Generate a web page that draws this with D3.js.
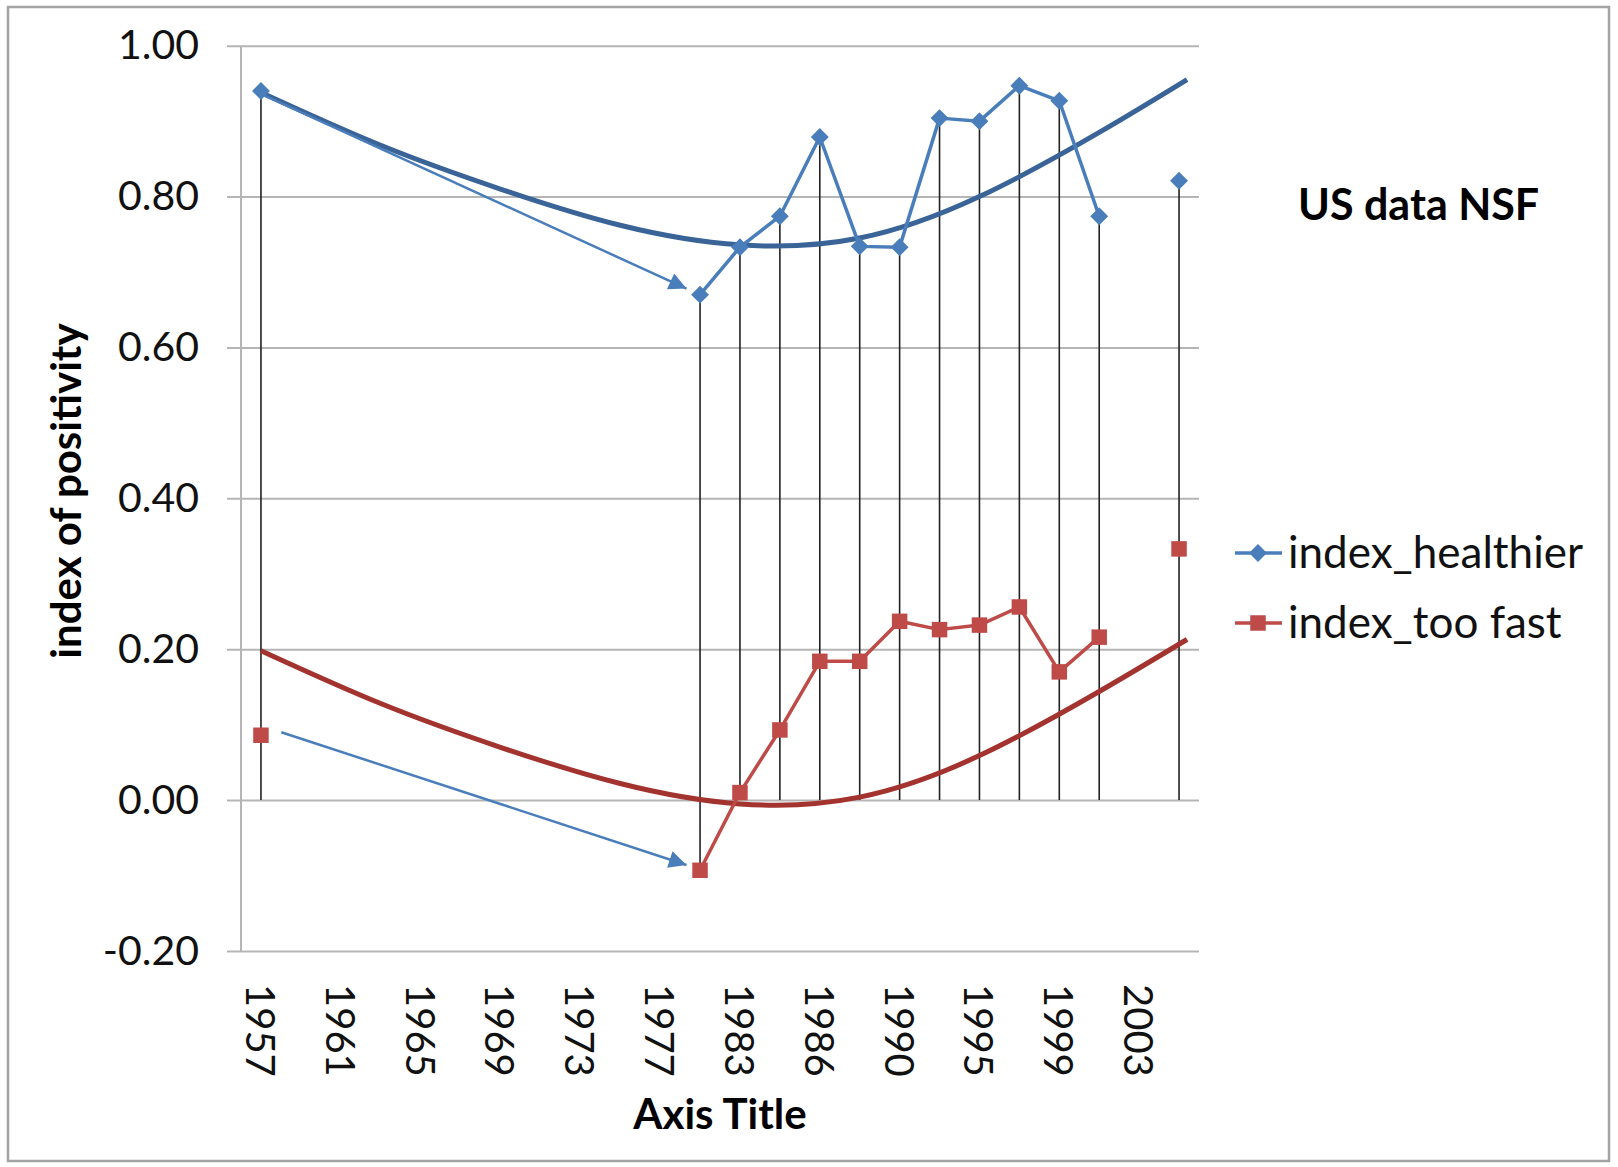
<!DOCTYPE html>
<html>
<head>
<meta charset="utf-8">
<title>US data NSF</title>
<script src="https://cdnjs.cloudflare.com/ajax/libs/d3/7.8.5/d3.min.js"></script>
<style>
  body { margin: 0; background: #fff; }
  svg { display: block; font-family: Lato, "Open Sans", sans-serif; }
</style>
</head>
<body>
<div id="chart"></div>
<script>
// categories on the x axis (only every second one is labelled)
var categories = ["1957", "1959", "1961", "1963", "1965", "1967", "1969", "1971",
                  "1973", "1975", "1977", "1979", "1983", "1985", "1986", "1988",
                  "1990", "1992", "1995", "1997", "1999", "2001", "2003", "2006"];

var healthier = [0.94, null, null, null, null, null, null, null, null, null, null,
                 0.670, 0.733, 0.774, 0.879, 0.734, 0.733, 0.904, 0.900, 0.947, 0.927, 0.774,
                 null, 0.821];

var tooFast = [0.086, null, null, null, null, null, null, null, null, null, null,
               -0.093, 0.010, 0.093, 0.184, 0.184, 0.237, 0.226, 0.232, 0.256, 0.170, 0.216,
               null, 0.333];

var yTicks = [-0.2, 0, 0.2, 0.4, 0.6, 0.8, 1.0];

// the thick drawn trend curves at category positions
var trendAt = [0, 3, 6, 9, 12, 15, 18, 21, 23.2];
var trendHealthier = [0.938, 0.868, 0.810, 0.762, 0.736, 0.745, 0.800, 0.885, 0.955];
var trendTooFast = [0.198, 0.128, 0.070, 0.022, -0.005, 0.004, 0.059, 0.144, 0.213];

// annotation arrows [fromIndex, fromValue, toIndex, toValue]
var arrows = [[0, 0.936, 10.66, 0.678], [0.51, 0.090, 10.66, -0.086]];

var seriesNames = ["index_healthier", "index_too fast"];

(function() {
  "use strict";

  var w = 1618, h = 1167;
  var left = 241, right = 1199, top = 45.7, bottom = 951;

  var svg = d3.select("#chart").append("svg")
    .attr("width", w)
    .attr("height", h);

  var defs = svg.append("defs");
  defs.append("marker")
    .attr("id", "arrowhead")
    .attr("viewBox", "0 0 10 10")
    .attr("refX", 10).attr("refY", 5)
    .attr("markerWidth", 9).attr("markerHeight", 7)
    .attr("markerUnits", "strokeWidth")
    .attr("orient", "auto")
    .append("path")
    .attr("d", "M0,0 L10,5 L0,10 Z")
    .attr("fill", "#4a7ebb");

  // outer frame
  svg.append("rect")
    .attr("x", 8).attr("y", 7)
    .attr("width", 1601).attr("height", 1154)
    .attr("fill", "#fff")
    .attr("stroke", "#a3a3a3")
    .attr("stroke-width", 2.5);

  var x = d3.scaleBand().domain(categories).range([left, right]);
  var xi = d3.scaleLinear().domain([-0.5, categories.length - 0.5]).range([left, right]);
  var y = d3.scaleLinear().domain([-0.2, 1.0]).range([bottom, top]);

  function cx(i) { return x(categories[i]) + x.bandwidth() / 2; }

  // gridlines + y axis
  var yAxis = svg.append("g")
    .attr("transform", "translate(" + left + ",0)")
    .call(d3.axisLeft(y)
      .tickValues(yTicks)
      .tickSize(-(right - left))
      .tickPadding(42)
      .tickFormat(function(d) { return d.toFixed(2); }));
  yAxis.select(".domain").remove();
  yAxis.selectAll(".tick line")
    .attr("x1", -14)
    .attr("stroke", "#b5b5b5")
    .attr("stroke-width", 2);
  yAxis.selectAll(".tick text")
    .attr("font-size", 41)
    .attr("fill", "#111")
    .style("font-family", "Lato, sans-serif");
  svg.append("line")
    .attr("x1", left).attr("x2", left)
    .attr("y1", top).attr("y2", bottom)
    .attr("stroke", "#b5b5b5")
    .attr("stroke-width", 2);

  // x axis labels, rotated clockwise
  var xAxis = svg.append("g")
    .attr("transform", "translate(0," + bottom + ")")
    .call(d3.axisBottom(x)
      .tickValues(categories.filter(function(d, i) { return i % 2 === 0; }))
      .tickSize(0));
  xAxis.select(".domain").remove();
  xAxis.selectAll(".tick text")
    .attr("font-size", 40)
    .attr("fill", "#111")
    .style("font-family", "Lato, sans-serif")
    .attr("text-anchor", "start")
    .attr("dy", null)
    .attr("y", 0)
    .attr("dominant-baseline", "central")
    .attr("transform", "translate(0,33) rotate(90)");

  // drop lines
  var drops = categories.map(function(c, i) {
    var vals = [healthier[i], tooFast[i]].filter(function(v) { return v != null; });
    return vals.length ? { i: i, hi: d3.max(vals), lo: Math.min(0, d3.min(vals)) } : null;
  }).filter(function(d) { return d; });

  svg.append("g").selectAll("line")
    .data(drops)
    .enter()
    .append("line")
    .attr("x1", function(d) { return cx(d.i); })
    .attr("x2", function(d) { return cx(d.i); })
    .attr("y1", function(d) { return y(d.hi); })
    .attr("y2", function(d) { return y(d.lo); })
    .attr("stroke", "#222")
    .attr("stroke-width", 1.6);

  // trend curves
  var trendLine = d3.line()
    .curve(d3.curveNatural)
    .x(function(d, i) { return xi(trendAt[i]); })
    .y(function(d) { return y(d); });
  svg.append("path")
    .attr("d", trendLine(trendHealthier))
    .attr("fill", "none")
    .attr("stroke", "#3a6498")
    .attr("stroke-width", 5);
  svg.append("path")
    .attr("d", trendLine(trendTooFast))
    .attr("fill", "none")
    .attr("stroke", "#a3332f")
    .attr("stroke-width", 5);

  // series lines
  var line = d3.line()
    .defined(function(d) { return d != null; })
    .x(function(d, i) { return cx(i); })
    .y(function(d) { return y(d); });

  var series = [
    { name: seriesNames[0], values: healthier, color: "#4a7ebb", shape: "diamond" },
    { name: seriesNames[1], values: tooFast, color: "#be4b48", shape: "square" }
  ];

  series.forEach(function(s) {
    svg.append("path")
      .attr("d", line(s.values))
      .attr("fill", "none")
      .attr("stroke", s.color)
      .attr("stroke-width", 3.5)
      .attr("stroke-linejoin", "round");
  });

  function drawMarker(g, shape, color, px, py) {
    if (shape === "diamond") {
      g.append("path")
        .attr("d", d3.symbol(d3.symbolSquare, 160)())
        .attr("transform", "translate(" + px + "," + py + ") rotate(45)")
        .attr("fill", color);
    } else {
      g.append("path")
        .attr("d", d3.symbol(d3.symbolSquare, 240)())
        .attr("transform", "translate(" + px + "," + py + ")")
        .attr("fill", color);
    }
  }

  series.forEach(function(s) {
    var g = svg.append("g");
    s.values.forEach(function(v, i) {
      if (v != null) drawMarker(g, s.shape, s.color, cx(i), y(v));
    });
  });

  // arrows
  svg.append("g").selectAll("line")
    .data(arrows)
    .enter()
    .append("line")
    .attr("x1", function(d) { return xi(d[0]); })
    .attr("y1", function(d) { return y(d[1]); })
    .attr("x2", function(d) { return xi(d[2]); })
    .attr("y2", function(d) { return y(d[3]); })
    .attr("stroke", "#4a7ebb")
    .attr("stroke-width", 2.5)
    .attr("marker-end", "url(#arrowhead)");

  // titles
  svg.append("text")
    .attr("x", 720).attr("y", 1129)
    .attr("text-anchor", "middle")
    .attr("font-size", 42)
    .attr("font-weight", "bold")
    .text("Axis Title");

  svg.append("text")
    .attr("transform", "translate(81,491) rotate(-90)")
    .attr("text-anchor", "middle")
    .attr("font-size", 42)
    .attr("font-weight", "bold")
    .text("index of positivity");

  svg.append("text")
    .attr("x", 1298).attr("y", 220)
    .attr("font-size", 43)
    .attr("font-weight", "bold")
    .text("US data NSF");

  // legend
  var legend = svg.append("g");
  series.forEach(function(s, k) {
    var ly = 553 + k * 70;
    legend.append("line")
      .attr("x1", 1235).attr("x2", 1282)
      .attr("y1", ly).attr("y2", ly)
      .attr("stroke", s.color)
      .attr("stroke-width", 3.5);
    drawMarker(legend, s.shape, s.color, 1258, ly);
    legend.append("text")
      .attr("x", 1288).attr("y", ly + 15)
      .attr("font-size", 44)
      .attr("fill", "#111")
      .text(s.name);
  });
})();
</script>
</body>
</html>
